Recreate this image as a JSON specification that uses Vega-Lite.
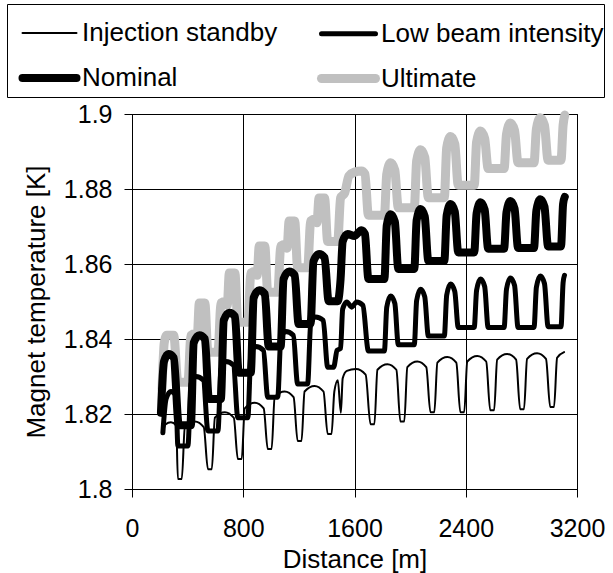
{
"$schema": "https://vega.github.io/schema/vega-lite/v6.json",
"width": 445, "height": 375,
"autosize": {"type": "none"},
"padding": {"left": 132, "top": 114, "right": 36, "bottom": 84},
"background": "white",
"config": {
 "font": "Liberation Sans",
 "view": {"stroke": "black", "strokeWidth": 1},
 "axis": {"grid": true, "gridColor": "black", "gridOpacity": 1, "gridWidth": 1, "domainColor": "black", "tickColor": "black", "tickSize": 8, "labelColor": "black", "titleColor": "black", "labelFont": "Liberation Sans", "titleFont": "Liberation Sans", "labelFontSize": 25, "titleFontSize": 26, "titleFontWeight": "normal"}
},
"data": {"values": [
{"s":"Ultimate","x":216,"y":1.8267},{"s":"Ultimate","x":232,"y":1.839},{"s":"Ultimate","x":250,"y":1.841},{"s":"Ultimate","x":300,"y":1.841},{"s":"Ultimate","x":330,"y":1.8285},{"s":"Ultimate","x":402,"y":1.8285},{"s":"Ultimate","x":424,"y":1.841},{"s":"Ultimate","x":454,"y":1.8415},{"s":"Ultimate","x":469,"y":1.8405},{"s":"Ultimate","x":484,"y":1.8496},{"s":"Ultimate","x":524,"y":1.8496},
{"s":"Ultimate","x":546,"y":1.8365},{"s":"Ultimate","x":618,"y":1.8365},{"s":"Ultimate","x":640,"y":1.8496},{"s":"Ultimate","x":670,"y":1.85},{"s":"Ultimate","x":685,"y":1.849},{"s":"Ultimate","x":700,"y":1.8576},{"s":"Ultimate","x":740,"y":1.8576},
{"s":"Ultimate","x":761,"y":1.8445},{"s":"Ultimate","x":833,"y":1.8445},{"s":"Ultimate","x":855,"y":1.8576},{"s":"Ultimate","x":885,"y":1.858},{"s":"Ultimate","x":900,"y":1.857},{"s":"Ultimate","x":915,"y":1.8648},{"s":"Ultimate","x":955,"y":1.8648},
{"s":"Ultimate","x":976,"y":1.8525},{"s":"Ultimate","x":1048,"y":1.8525},{"s":"Ultimate","x":1070,"y":1.8648},{"s":"Ultimate","x":1100,"y":1.8652},{"s":"Ultimate","x":1115,"y":1.8642},{"s":"Ultimate","x":1130,"y":1.8715},{"s":"Ultimate","x":1170,"y":1.8715},
{"s":"Ultimate","x":1191,"y":1.859},{"s":"Ultimate","x":1263,"y":1.859},{"s":"Ultimate","x":1285,"y":1.8715},{"s":"Ultimate","x":1315,"y":1.872},{"s":"Ultimate","x":1330,"y":1.871},{"s":"Ultimate","x":1345,"y":1.8776},{"s":"Ultimate","x":1385,"y":1.8776},
{"s":"Ultimate","x":1407,"y":1.866},{"s":"Ultimate","x":1479,"y":1.866},{"s":"Ultimate","x":1500,"y":1.8776},{"s":"Ultimate","x":1530,"y":1.879},{"s":"Ultimate","x":1560,"y":1.8835},{"s":"Ultimate","x":1600,"y":1.8845},{"s":"Ultimate","x":1650,"y":1.8848},{"s":"Ultimate","x":1675,"y":1.884},
{"s":"Ultimate","x":1700,"y":1.873},{"s":"Ultimate","x":1815,"y":1.873},{"s":"Ultimate","x":1832,"y":1.884},{"s":"Ultimate","x":1860,"y":1.887},{"s":"Ultimate","x":1890,"y":1.885},
{"s":"Ultimate","x":1915,"y":1.875},{"s":"Ultimate","x":2030,"y":1.875},{"s":"Ultimate","x":2047,"y":1.8875},{"s":"Ultimate","x":2075,"y":1.8905},{"s":"Ultimate","x":2105,"y":1.8885},
{"s":"Ultimate","x":2131,"y":1.8777},{"s":"Ultimate","x":2246,"y":1.8777},{"s":"Ultimate","x":2263,"y":1.891},{"s":"Ultimate","x":2291,"y":1.894},{"s":"Ultimate","x":2321,"y":1.892},
{"s":"Ultimate","x":2346,"y":1.881},{"s":"Ultimate","x":2461,"y":1.881},{"s":"Ultimate","x":2478,"y":1.8925},{"s":"Ultimate","x":2506,"y":1.8955},{"s":"Ultimate","x":2536,"y":1.8935},
{"s":"Ultimate","x":2561,"y":1.8855},{"s":"Ultimate","x":2676,"y":1.8855},{"s":"Ultimate","x":2693,"y":1.8946},{"s":"Ultimate","x":2721,"y":1.8976},{"s":"Ultimate","x":2751,"y":1.8956},
{"s":"Ultimate","x":2776,"y":1.887},{"s":"Ultimate","x":2891,"y":1.887},{"s":"Ultimate","x":2908,"y":1.896},{"s":"Ultimate","x":2936,"y":1.899},{"s":"Ultimate","x":2966,"y":1.897},
{"s":"Ultimate","x":2992,"y":1.8877},{"s":"Ultimate","x":3085,"y":1.8877},{"s":"Ultimate","x":3100,"y":1.897},{"s":"Ultimate","x":3112,"y":1.8997},

{"s":"Nominal","x":208,"y":1.8203},{"s":"Nominal","x":230,"y":1.834},{"s":"Nominal","x":262,"y":1.836},{"s":"Nominal","x":300,"y":1.835},{"s":"Nominal","x":337,"y":1.817},{"s":"Nominal","x":423,"y":1.817},{"s":"Nominal","x":444,"y":1.839},{"s":"Nominal","x":484,"y":1.841},{"s":"Nominal","x":524,"y":1.84},
{"s":"Nominal","x":553,"y":1.824},{"s":"Nominal","x":639,"y":1.824},{"s":"Nominal","x":660,"y":1.845},{"s":"Nominal","x":700,"y":1.847},{"s":"Nominal","x":740,"y":1.846},
{"s":"Nominal","x":768,"y":1.831},{"s":"Nominal","x":854,"y":1.831},{"s":"Nominal","x":875,"y":1.851},{"s":"Nominal","x":915,"y":1.853},{"s":"Nominal","x":955,"y":1.852},
{"s":"Nominal","x":983,"y":1.838},{"s":"Nominal","x":1069,"y":1.838},{"s":"Nominal","x":1090,"y":1.856},{"s":"Nominal","x":1130,"y":1.858},{"s":"Nominal","x":1170,"y":1.857},
{"s":"Nominal","x":1198,"y":1.844},{"s":"Nominal","x":1284,"y":1.844},{"s":"Nominal","x":1305,"y":1.8607},{"s":"Nominal","x":1345,"y":1.8627},{"s":"Nominal","x":1385,"y":1.8617},
{"s":"Nominal","x":1414,"y":1.8501},{"s":"Nominal","x":1480,"y":1.8501},{"s":"Nominal","x":1500,"y":1.856},{"s":"Nominal","x":1515,"y":1.866},{"s":"Nominal","x":1550,"y":1.868},{"s":"Nominal","x":1600,"y":1.8675},{"s":"Nominal","x":1650,"y":1.869},{"s":"Nominal","x":1675,"y":1.868},
{"s":"Nominal","x":1700,"y":1.856},{"s":"Nominal","x":1815,"y":1.856},{"s":"Nominal","x":1832,"y":1.8703},{"s":"Nominal","x":1860,"y":1.8733},{"s":"Nominal","x":1890,"y":1.8713},
{"s":"Nominal","x":1915,"y":1.8587},{"s":"Nominal","x":2030,"y":1.8587},{"s":"Nominal","x":2047,"y":1.8717},{"s":"Nominal","x":2075,"y":1.8747},{"s":"Nominal","x":2105,"y":1.8727},
{"s":"Nominal","x":2131,"y":1.8608},{"s":"Nominal","x":2246,"y":1.8608},{"s":"Nominal","x":2263,"y":1.873},{"s":"Nominal","x":2291,"y":1.876},{"s":"Nominal","x":2321,"y":1.874},
{"s":"Nominal","x":2346,"y":1.8631},{"s":"Nominal","x":2461,"y":1.8631},{"s":"Nominal","x":2478,"y":1.8735},{"s":"Nominal","x":2506,"y":1.8765},{"s":"Nominal","x":2536,"y":1.8745},
{"s":"Nominal","x":2561,"y":1.8641},{"s":"Nominal","x":2676,"y":1.8641},{"s":"Nominal","x":2693,"y":1.8738},{"s":"Nominal","x":2721,"y":1.8768},{"s":"Nominal","x":2751,"y":1.8748},
{"s":"Nominal","x":2776,"y":1.8643},{"s":"Nominal","x":2891,"y":1.8643},{"s":"Nominal","x":2908,"y":1.8743},{"s":"Nominal","x":2936,"y":1.8773},{"s":"Nominal","x":2966,"y":1.8753},
{"s":"Nominal","x":2992,"y":1.8647},{"s":"Nominal","x":3085,"y":1.8647},{"s":"Nominal","x":3100,"y":1.876},{"s":"Nominal","x":3112,"y":1.8779},

{"s":"Low beam intensity","x":222,"y":1.815},{"s":"Low beam intensity","x":245,"y":1.824},{"s":"Low beam intensity","x":280,"y":1.826},{"s":"Low beam intensity","x":316,"y":1.825},{"s":"Low beam intensity","x":330,"y":1.8115},{"s":"Low beam intensity","x":402,"y":1.8115},{"s":"Low beam intensity","x":424,"y":1.828},{"s":"Low beam intensity","x":459,"y":1.83},{"s":"Low beam intensity","x":514,"y":1.829},
{"s":"Low beam intensity","x":546,"y":1.8155},{"s":"Low beam intensity","x":618,"y":1.8155},{"s":"Low beam intensity","x":640,"y":1.832},{"s":"Low beam intensity","x":675,"y":1.834},{"s":"Low beam intensity","x":730,"y":1.833},
{"s":"Low beam intensity","x":761,"y":1.819},{"s":"Low beam intensity","x":833,"y":1.819},{"s":"Low beam intensity","x":855,"y":1.836},{"s":"Low beam intensity","x":890,"y":1.838},{"s":"Low beam intensity","x":945,"y":1.837},
{"s":"Low beam intensity","x":976,"y":1.8245},{"s":"Low beam intensity","x":1048,"y":1.8245},{"s":"Low beam intensity","x":1070,"y":1.84},{"s":"Low beam intensity","x":1105,"y":1.842},{"s":"Low beam intensity","x":1160,"y":1.841},
{"s":"Low beam intensity","x":1191,"y":1.828},{"s":"Low beam intensity","x":1263,"y":1.828},{"s":"Low beam intensity","x":1285,"y":1.844},{"s":"Low beam intensity","x":1320,"y":1.8459},{"s":"Low beam intensity","x":1375,"y":1.845},
{"s":"Low beam intensity","x":1407,"y":1.8325},{"s":"Low beam intensity","x":1450,"y":1.8325},{"s":"Low beam intensity","x":1475,"y":1.837},{"s":"Low beam intensity","x":1500,"y":1.8375},{"s":"Low beam intensity","x":1515,"y":1.848},{"s":"Low beam intensity","x":1545,"y":1.8499},{"s":"Low beam intensity","x":1580,"y":1.8485},{"s":"Low beam intensity","x":1615,"y":1.8499},{"s":"Low beam intensity","x":1660,"y":1.849},
{"s":"Low beam intensity","x":1700,"y":1.8368},{"s":"Low beam intensity","x":1815,"y":1.8368},{"s":"Low beam intensity","x":1832,"y":1.8485},{"s":"Low beam intensity","x":1860,"y":1.8515},{"s":"Low beam intensity","x":1890,"y":1.8495},
{"s":"Low beam intensity","x":1915,"y":1.8385},{"s":"Low beam intensity","x":2030,"y":1.8385},{"s":"Low beam intensity","x":2047,"y":1.8503},{"s":"Low beam intensity","x":2075,"y":1.8533},{"s":"Low beam intensity","x":2105,"y":1.8513},
{"s":"Low beam intensity","x":2131,"y":1.8408},{"s":"Low beam intensity","x":2246,"y":1.8408},{"s":"Low beam intensity","x":2263,"y":1.8517},{"s":"Low beam intensity","x":2291,"y":1.8547},{"s":"Low beam intensity","x":2321,"y":1.8527},
{"s":"Low beam intensity","x":2346,"y":1.8431},{"s":"Low beam intensity","x":2461,"y":1.8431},{"s":"Low beam intensity","x":2478,"y":1.853},{"s":"Low beam intensity","x":2506,"y":1.856},{"s":"Low beam intensity","x":2536,"y":1.854},
{"s":"Low beam intensity","x":2561,"y":1.8431},{"s":"Low beam intensity","x":2676,"y":1.8431},{"s":"Low beam intensity","x":2693,"y":1.8533},{"s":"Low beam intensity","x":2721,"y":1.8563},{"s":"Low beam intensity","x":2751,"y":1.8543},
{"s":"Low beam intensity","x":2776,"y":1.8431},{"s":"Low beam intensity","x":2891,"y":1.8431},{"s":"Low beam intensity","x":2908,"y":1.8538},{"s":"Low beam intensity","x":2936,"y":1.8568},{"s":"Low beam intensity","x":2966,"y":1.8548},
{"s":"Low beam intensity","x":2992,"y":1.8433},{"s":"Low beam intensity","x":3085,"y":1.8433},{"s":"Low beam intensity","x":3100,"y":1.855},{"s":"Low beam intensity","x":3110,"y":1.857},

{"s":"Injection standby","x":222,"y":1.8152},{"s":"Injection standby","x":240,"y":1.8172},{"s":"Injection standby","x":280,"y":1.8178},{"s":"Injection standby","x":318,"y":1.817},{"s":"Injection standby","x":330,"y":1.8027},{"s":"Injection standby","x":358,"y":1.8027},{"s":"Injection standby","x":380,"y":1.8165},{"s":"Injection standby","x":452,"y":1.818},{"s":"Injection standby","x":516,"y":1.8165},
{"s":"Injection standby","x":546,"y":1.8053},{"s":"Injection standby","x":574,"y":1.8053},{"s":"Injection standby","x":596,"y":1.819},{"s":"Injection standby","x":668,"y":1.8205},{"s":"Injection standby","x":732,"y":1.819},
{"s":"Injection standby","x":761,"y":1.808},{"s":"Injection standby","x":789,"y":1.808},{"s":"Injection standby","x":811,"y":1.8215},{"s":"Injection standby","x":883,"y":1.823},{"s":"Injection standby","x":947,"y":1.8215},
{"s":"Injection standby","x":976,"y":1.8107},{"s":"Injection standby","x":1004,"y":1.8107},{"s":"Injection standby","x":1026,"y":1.8245},{"s":"Injection standby","x":1098,"y":1.826},{"s":"Injection standby","x":1162,"y":1.8245},
{"s":"Injection standby","x":1191,"y":1.8128},{"s":"Injection standby","x":1219,"y":1.8128},{"s":"Injection standby","x":1241,"y":1.826},{"s":"Injection standby","x":1313,"y":1.8275},{"s":"Injection standby","x":1377,"y":1.826},
{"s":"Injection standby","x":1407,"y":1.8147},{"s":"Injection standby","x":1435,"y":1.8147},{"s":"Injection standby","x":1455,"y":1.826},{"s":"Injection standby","x":1480,"y":1.829},{"s":"Injection standby","x":1502,"y":1.8203},{"s":"Injection standby","x":1515,"y":1.8295},{"s":"Injection standby","x":1545,"y":1.8315},{"s":"Injection standby","x":1610,"y":1.832},{"s":"Injection standby","x":1680,"y":1.8305},
{"s":"Injection standby","x":1715,"y":1.8173},{"s":"Injection standby","x":1743,"y":1.8173},{"s":"Injection standby","x":1765,"y":1.8318},{"s":"Injection standby","x":1837,"y":1.8333},{"s":"Injection standby","x":1901,"y":1.8318},
{"s":"Injection standby","x":1930,"y":1.818},{"s":"Injection standby","x":1958,"y":1.818},{"s":"Injection standby","x":1980,"y":1.8325},{"s":"Injection standby","x":2052,"y":1.834},{"s":"Injection standby","x":2116,"y":1.8325},
{"s":"Injection standby","x":2146,"y":1.8205},{"s":"Injection standby","x":2174,"y":1.8205},{"s":"Injection standby","x":2196,"y":1.8337},{"s":"Injection standby","x":2268,"y":1.8352},{"s":"Injection standby","x":2332,"y":1.8337},
{"s":"Injection standby","x":2361,"y":1.8205},{"s":"Injection standby","x":2389,"y":1.8205},{"s":"Injection standby","x":2411,"y":1.834},{"s":"Injection standby","x":2483,"y":1.8355},{"s":"Injection standby","x":2547,"y":1.834},
{"s":"Injection standby","x":2576,"y":1.821},{"s":"Injection standby","x":2604,"y":1.821},{"s":"Injection standby","x":2626,"y":1.8345},{"s":"Injection standby","x":2698,"y":1.836},{"s":"Injection standby","x":2762,"y":1.8345},
{"s":"Injection standby","x":2791,"y":1.8213},{"s":"Injection standby","x":2819,"y":1.8213},{"s":"Injection standby","x":2841,"y":1.8347},{"s":"Injection standby","x":2913,"y":1.8362},{"s":"Injection standby","x":2977,"y":1.8347},
{"s":"Injection standby","x":3007,"y":1.8219},{"s":"Injection standby","x":3035,"y":1.8219},{"s":"Injection standby","x":3057,"y":1.835},{"s":"Injection standby","x":3107,"y":1.8365}
]},
"mark": {"type": "line", "interpolate": "monotone", "strokeCap": "round", "strokeJoin": "round"},
"encoding": {
 "x": {"field": "x", "type": "quantitative", "scale": {"domain": [0, 3200], "nice": false},
  "axis": {"values": [0, 800, 1600, 2400, 3200], "format": "d", "title": "Distance [m]", "labelPadding": 19, "titlePadding": 5, "labelFlush": false}},
 "y": {"field": "y", "type": "quantitative", "scale": {"domain": [1.8, 1.9], "nice": false, "zero": false},
  "axis": {"values": [1.8, 1.82, 1.84, 1.86, 1.88, 1.9], "format": ".2~f", "title": "Magnet temperature [K]", "labelPadding": 12, "titlePadding": 14}},
 "color": {"field": "s", "type": "nominal",
  "scale": {"domain": ["Injection standby", "Nominal", "Low beam intensity", "Ultimate"], "range": ["black", "black", "black", "#c0c0c0"]},
  "legend": {"orient": "none", "legendX": -125, "legendY": -110, "columns": 2, "title": null, "symbolType": "stroke", "symbolSize": 2916, "symbolOffset": 11, "labelFontSize": 26, "labelFont": "Liberation Sans", "labelColor": "black", "labelOffset": 1, "columnPadding": 25, "rowPadding": 0, "padding": 0, "strokeColor": "black", "fillColor": "white", "labelLimit": 400, "encode": {"symbols": {"update": {"strokeCap": {"value": "round"}}}}}},
 "strokeWidth": {"field": "s", "type": "nominal",
  "scale": {"type": "ordinal", "domain": ["Injection standby", "Nominal", "Low beam intensity", "Ultimate"], "range": [2, 8, 5, 9]},
  "legend": {"orient": "none", "legendX": -125, "legendY": -110, "columns": 2, "title": null, "symbolType": "stroke", "symbolSize": 2916, "symbolOffset": 11, "labelFontSize": 26, "labelFont": "Liberation Sans", "labelColor": "black", "labelOffset": 1, "columnPadding": 25, "rowPadding": 0, "padding": 0, "strokeColor": "black", "fillColor": "white", "labelLimit": 400, "encode": {"symbols": {"update": {"strokeCap": {"value": "round"}}}}}}
}
}
